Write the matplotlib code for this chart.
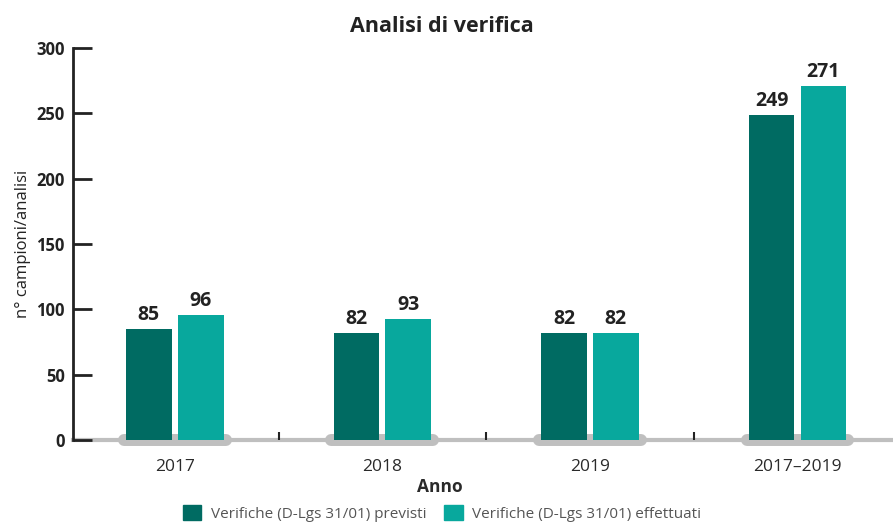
import numpy as np
import matplotlib.pyplot as plt
from matplotlib.patches import Patch

plt.rcParams['font.family'] = ['Open Sans', 'DejaVu Sans']

years = ["2017", "2018", "2019", "2017–2019"]
previsti = [85, 82, 82, 249]
effettuati = [96, 93, 82, 271]
series_names = ["Verifiche (D-Lgs 31/01) previsti", "Verifiche (D-Lgs 31/01) effettuati"]
colors = ["#006b62", "#08a89d"]

fig = plt.figure(figsize=(8.93, 5.22), dpi=100)
ax = fig.add_axes([0.0818, 0.157, 0.9182, 0.751])

x = np.arange(len(years))
w = 0.22
gap = 0.015
grey = "#bfbfbf"

# baseline and rounded pill under each group
ax.axhline(0, color=grey, lw=3, zorder=1, clip_on=False)
for xi in x:
    ax.plot([xi - 0.245, xi + 0.245], [0, 0], color=grey, lw=8.6,
            solid_capstyle='round', zorder=1, clip_on=False)

b1 = ax.bar(x - w / 2 - gap, previsti, w, color=colors[0], zorder=2)
b2 = ax.bar(x + w / 2 + gap, effettuati, w, color=colors[1], zorder=2)

for bars, vals in ((b1, previsti), (b2, effettuati)):
    for r, v in zip(bars, vals):
        ax.text(r.get_x() + r.get_width() / 2, v + 3, str(v), ha='center', va='bottom',
                fontsize=14, fontweight='bold', color="#222222")

ax.set_xlim(-0.49, 3.46)
ax.set_ylim(0, 300)

ax.set_yticks(range(0, 301, 50))
ax.tick_params(axis='y', direction='in', length=14, width=2, color="#222222",
               labelsize=12, labelcolor="#222222", pad=6)
for lab in ax.get_yticklabels():
    lab.set_fontweight('bold')

ax.set_xticks(x)
ax.set_xticklabels(years, fontsize=12.5, color="#2a2a2a")
ax.set_xticks([0.5, 1.5, 2.5], minor=True)
ax.tick_params(axis='x', which='major', length=0, pad=14)
ax.tick_params(axis='x', which='minor', direction='in', length=6, width=1.5, color="#222222")

for s in ("top", "right", "bottom"):
    ax.spines[s].set_visible(False)
ax.spines["left"].set_linewidth(2)
ax.spines["left"].set_color("#222222")

ax.set_ylabel("n° campioni/analisi", fontsize=12, color="#222222", labelpad=4)

fig.text(0.493, 0.067, "Anno", ha='center', va='center',
         fontsize=12.5, fontweight='bold', color="#2a2a2a")
fig.text(0.495, 0.95, "Analisi di verifica", ha='center', va='center',
         fontsize=15.5, fontweight='bold', color="#222222")

handles = [Patch(color=c) for c in colors]
fig.legend(handles, series_names, loc='center', bbox_to_anchor=(0.495, 0.017),
           ncol=2, frameon=False, fontsize=11, handlelength=1.2, handleheight=1.2,
           columnspacing=1.2, handletextpad=0.6, labelcolor="#555555",
           borderaxespad=0, borderpad=0)

fig.savefig("out.png", dpi=100)
